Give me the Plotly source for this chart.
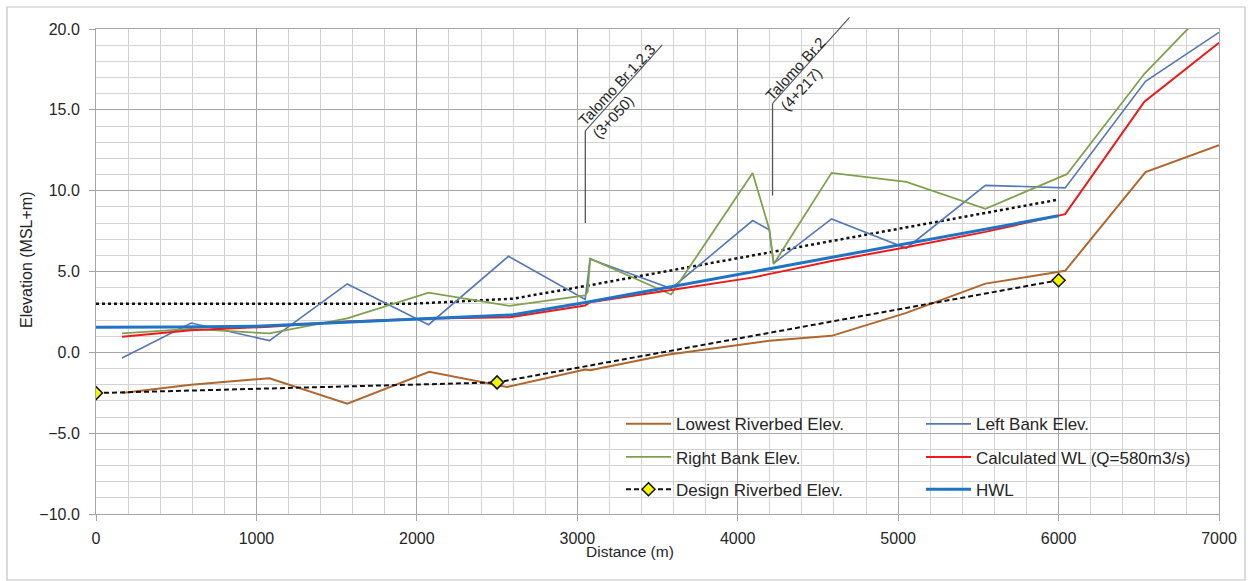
import plotly.graph_objects as go

# ---- Longitudinal profile data (distance in m, elevation in MSL+m) ----
lowest_x = [162, 593, 1081, 1566, 2077, 2561, 3049, 3080, 3560, 4090, 4197, 4585, 5051, 5544, 6041, 6542, 7000]
lowest_y = [-2.52, -2.0, -1.6, -3.17, -1.2, -2.15, -1.06, -1.1, -0.15, 0.6, 0.72, 1.02, 2.44, 4.25, 5.04, 11.15, 12.81]

left_x = [162, 593, 1081, 1566, 2073, 2571, 3049, 3080, 3585, 4093, 4197, 4224, 4585, 5051, 5544, 6041, 6542, 7000]
left_y = [-0.35, 1.81, 0.73, 4.23, 1.71, 5.94, 3.27, 5.77, 3.95, 8.15, 7.58, 5.5, 8.25, 6.44, 10.33, 10.17, 16.77, 19.79]

right_x = [162, 593, 1081, 1566, 2073, 2576, 3049, 3065, 3080, 3585, 4093, 4197, 4224, 4585, 5051, 5544, 6052, 6535, 7000]
right_y = [1.17, 1.45, 1.17, 2.1, 3.69, 2.88, 3.52, 3.75, 5.8, 3.58, 11.1, 7.6, 5.46, 11.1, 10.54, 8.88, 11.02, 17.23, 22.0]

calc_x = [162, 593, 1081, 1566, 2077, 2582, 3049, 3080, 3585, 4090, 4224, 4585, 5051, 5544, 6041, 6535, 7000]
calc_y = [0.96, 1.37, 1.58, 1.9, 2.1, 2.17, 2.9, 3.1, 3.85, 4.62, 4.9, 5.65, 6.5, 7.45, 8.55, 15.5, 19.15]

design_x = [0, 2500, 6000]
design_y = [-2.52, -1.86, 4.46]

hwl_x = [0, 500, 1000, 1566, 2077, 2600, 3050, 4224, 5051, 6000]
hwl_y = [1.55, 1.56, 1.62, 1.85, 2.1, 2.32, 3.08, 5.22, 6.72, 8.45]

dotted_x = [0, 1960, 2600, 3050, 6000]
dotted_y = [3.0, 3.0, 3.32, 4.1, 9.45]

# Bridge stations and their leader lines
bridge_station = [3050, 4217]
bridge_name = ["Talomo Br.1,2,3", "Talomo Br.2"]
bridge_chainage = ["(3+050)", "(4+217)"]
leader_bottom = [8.0, 9.7]
leader_top = [13.7, 15.4]

X_RANGE = [0, 7000]
Y_RANGE = [-10, 20]
FONT = "Liberation Sans, Arial, sans-serif"
TXT = "#262626"

# plot area in pixels (figure is 1252 x 581)
M_L, M_R, M_T, M_B = 96, 33, 29, 67
PW = 1252 - M_L - M_R
PH = 581 - M_T - M_B


def px(xv):
    return (xv - X_RANGE[0]) / (X_RANGE[1] - X_RANGE[0])


def py(yv):
    return (yv - Y_RANGE[0]) / (Y_RANGE[1] - Y_RANGE[0])


fig = go.Figure()

fig.add_trace(go.Scatter(x=dotted_x, y=dotted_y, mode="lines", name="Dotted profile",
                         showlegend=False, line=dict(color="#111111", width=2.5, dash="dot")))
fig.add_trace(go.Scatter(x=lowest_x, y=lowest_y, mode="lines", name="Lowest Riverbed Elev.",
                         legend="legend", line=dict(color="#B0672E", width=2)))
fig.add_trace(go.Scatter(x=left_x, y=left_y, mode="lines", name="Left Bank Elev.",
                         legend="legend", line=dict(color="#5478B4", width=1.6)))
fig.add_trace(go.Scatter(x=right_x, y=right_y, mode="lines", name="Right Bank Elev.",
                         legend="legend2", line=dict(color="#7FA14E", width=1.8)))
fig.add_trace(go.Scatter(x=calc_x, y=calc_y, mode="lines", name="Calculated WL (Q=580m3/s)",
                         legend="legend2", line=dict(color="#F01818", width=2)))
fig.add_trace(go.Scatter(x=design_x, y=design_y, mode="lines+markers", name="Design Riverbed Elev.",
                         legend="legend3", line=dict(color="#111111", width=2, dash="5px,3px"),
                         marker=dict(symbol="diamond", size=10, color="#F5F500",
                                     line=dict(color="#111111", width=1.5))))
fig.add_trace(go.Scatter(x=hwl_x, y=hwl_y, mode="lines", name="HWL",
                         legend="legend3", line=dict(color="#1F74C6", width=3)))

shapes = []
# white panel behind the legend rows
shapes.append(dict(type="rect", xref="paper", yref="paper", layer="between",
                   x0=(609 - M_L) / PW, x1=(1213 - M_L) / PW,
                   y0=py(-9.95), y1=py(-3.6),
                   fillcolor="white", line=dict(width=0)))
# outer chart frame
shapes.append(dict(type="rect", xref="paper", yref="paper",
                   x0=(7 - M_L) / PW, x1=(1245 - M_L) / PW,
                   y0=(M_T + PH - 580) / PH, y1=(M_T + PH - 7) / PH,
                   line=dict(color="#C4C4C4", width=1.2)))

annotations = []
for st, nm, ch, yb, yt in zip(bridge_station, bridge_name, bridge_chainage, leader_bottom, leader_top):
    # vertical leader
    shapes.append(dict(type="line", xref="paper", yref="paper",
                       x0=px(st), x1=px(st), y0=py(yb), y1=py(yt),
                       line=dict(color="#555555", width=1.3)))
    # slanted underline for the label
    shapes.append(dict(type="line", xref="paper", yref="paper",
                       x0=px(st), x1=px(st + 480), y0=py(yt), y1=py(yt + 5.32),
                       line=dict(color="#555555", width=1.1)))
    annotations.append(dict(text=nm, xref="paper", yref="paper", x=px(st), y=py(yt),
                            xanchor="center", yanchor="middle",
                            xshift=len(nm) * 2.15 - 0.5, yshift=len(nm) * 2.9 + 2.5,
                            showarrow=False, textangle=-47,
                            font=dict(family=FONT, size=15, color=TXT)))
    annotations.append(dict(text=ch, xref="paper", yref="paper", x=px(st), y=py(yt),
                            xanchor="center", yanchor="middle",
                            xshift=28, yshift=14, showarrow=False, textangle=-47,
                            font=dict(family=FONT, size=15, color=TXT)))

# axis titles
annotations.append(dict(text="Distance (m)", xref="paper", yref="paper",
                        x=(630 - M_L) / PW, y=-37 / PH, showarrow=False,
                        xanchor="center", yanchor="middle",
                        font=dict(family=FONT, size=15.5, color=TXT)))
annotations.append(dict(text="Elevation (MSL+m)", xref="paper", yref="paper",
                        x=(26 - M_L) / PW, y=(514 - 260) / PH, showarrow=False, textangle=-90,
                        xanchor="center", yanchor="middle",
                        font=dict(family=FONT, size=16, color=TXT)))

legend_x = (621 - M_L) / PW
legend_common = dict(orientation="h", xanchor="left", yanchor="middle",
                     entrywidth=240, entrywidthmode="pixels", itemwidth=45,
                     bgcolor="rgba(0,0,0,0)", borderwidth=0,
                     font=dict(family=FONT, size=17, color=TXT), traceorder="normal")

fig.update_layout(
    width=1252, height=581,
    margin=dict(l=M_L, r=M_R, t=M_T, b=M_B),
    paper_bgcolor="white", plot_bgcolor="white",
    font=dict(family=FONT, color=TXT),
    showlegend=True,
    legend=dict(x=legend_x, y=py(-4.45), **legend_common),
    legend2=dict(x=legend_x, y=py(-6.5), **legend_common),
    legend3=dict(x=legend_x, y=py(-8.5), **legend_common),
    shapes=shapes,
    annotations=annotations,
    xaxis=dict(range=X_RANGE, dtick=1000, tick0=0, tickformat="d",
               showgrid=True, gridcolor="#A6A6A6", gridwidth=1,
               minor=dict(dtick=200, showgrid=True, gridcolor="#D3D3D3", gridwidth=1),
               showline=True, linecolor="#A6A6A6", linewidth=1, mirror=True,
               ticks="outside", ticklen=6, tickcolor="#A6A6A6",
               zeroline=False, ticklabelstandoff=4,
               tickfont=dict(family=FONT, size=16, color=TXT)),
    yaxis=dict(range=Y_RANGE, dtick=5, tick0=0, tickformat=".1f",
               showgrid=True, gridcolor="#A6A6A6", gridwidth=1,
               minor=dict(dtick=1, showgrid=True, gridcolor="#D3D3D3", gridwidth=1),
               showline=True, linecolor="#A6A6A6", linewidth=1, mirror=True,
               ticks="outside", ticklen=6, tickcolor="#A6A6A6",
               zeroline=False, ticklabelstandoff=6,
               tickfont=dict(family=FONT, size=16, color=TXT)),
)

fig.write_html("out.html")
